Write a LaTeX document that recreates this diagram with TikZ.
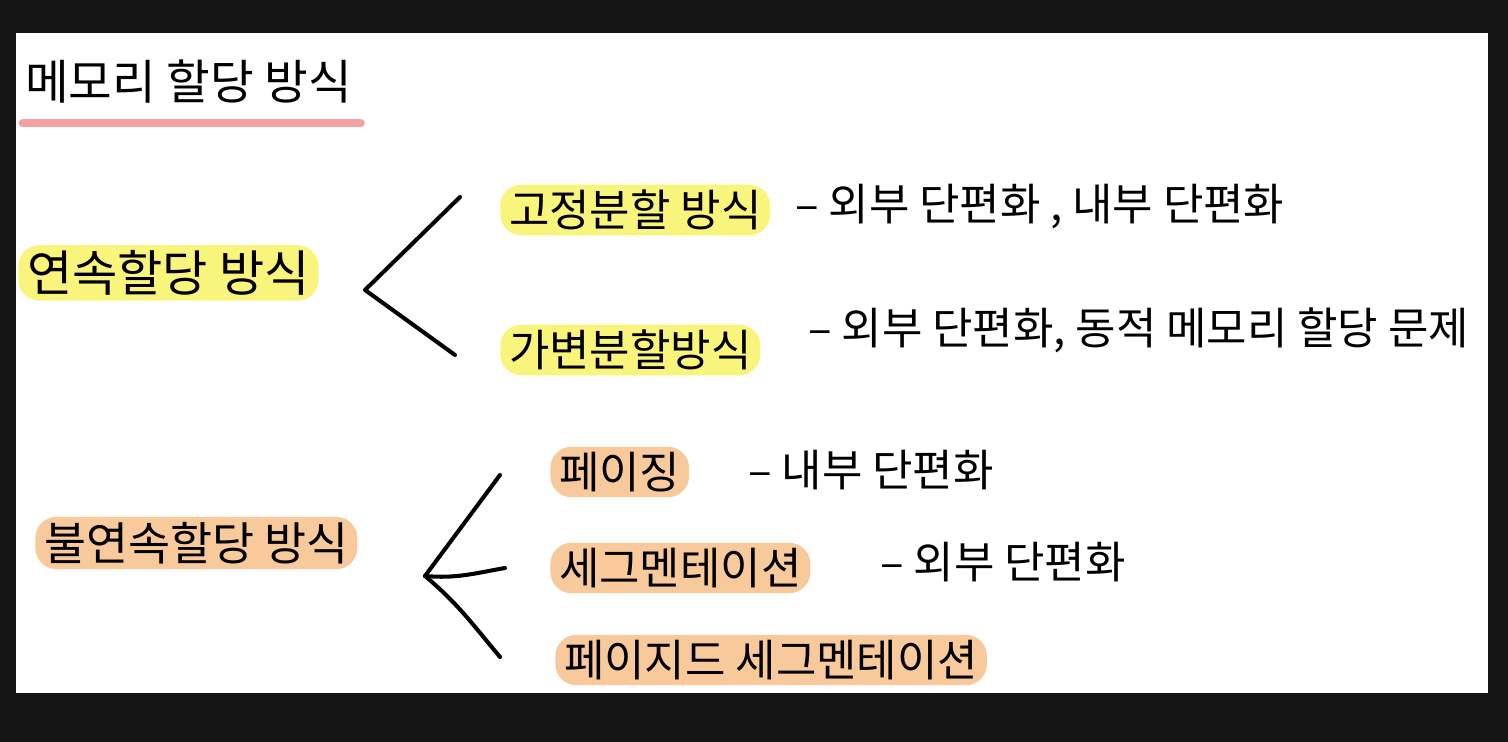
\documentclass[tikz,border=0pt]{standalone}
\usepackage{fontspec}
\setmainfont{Noto Sans CJK KR}
\usetikzlibrary{calc}
\definecolor{bgdark}{HTML}{141414}
\definecolor{markyellow}{HTML}{F9F57C}
\definecolor{markorange}{HTML}{F8C99B}
\definecolor{markpink}{HTML}{F3A0A0}

\begin{document}
\begin{tikzpicture}[x=0.02cm, y=-0.02cm,
    % --- 스타일 정의 ---
    title_text/.style={anchor=west, inner sep=0pt, font=\fontsize{27}{30}\selectfont},
    item_text/.style={anchor=west, inner sep=0pt, font=\fontsize{25}{28}\selectfont},
    desc_text/.style={anchor=west, inner sep=0pt, font=\fontsize{25}{28}\selectfont},
    % 형광펜 (노랑 / 주황)
    mark_yellow/.style={fill=markyellow, rounded corners=12pt, inner xsep=5pt, inner ysep=3pt},
    mark_orange/.style={fill=markorange, rounded corners=12pt, inner xsep=5pt, inner ysep=3pt},
    % 가지 선
    branch/.style={line width=2.3pt, line cap=round, line join=round}
]

    % --- 배경 ---
    \fill[bgdark] (0,0) rectangle (1508,742);
    \fill[white] (16,33) rectangle (1488,693);

    % =========================================
    % 제목
    % =========================================
    \node[title_text] (title) at (25,82) {메모리 할당 방식};
    \draw[markpink, line width=5pt, line cap=round]
        ($(title.south west)+(-2,19)$) -- ($(title.south east)+(8,19)$);

    % =========================================
    % 연속할당 방식
    % =========================================
    \node[item_text, mark_yellow, font=\fontsize{28}{30}\selectfont] (cont) at (18,273) {연속할당 방식};
    \coordinate (fork1) at (365,290); % 갈라지는 점

    \node[item_text, mark_yellow] (fixed) at (500,210) {고정분할 방식};
    \node[desc_text] (fixed_desc) at (795,207) {– 외부 단편화 , 내부 단편화};

    \node[item_text, mark_yellow] (var) at (500,350) {가변분할방식};
    \node[desc_text] (var_desc) at (808,330) {– 외부 단편화, 동적 메모리 할당 문제};

    \draw[branch] ($(fixed.west)+(-40,-13)$) -- (fork1) -- ($(var.west)+(-45,5)$);

    % =========================================
    % 불연속할당 방식
    % =========================================
    \node[item_text, mark_orange, font=\fontsize{26}{28}\selectfont] (noncont) at (35,543) {불연속할당 방식};
    \coordinate (fork2) at (425,576); % 갈라지는 점

    \node[item_text, mark_orange] (paging) at (550,472) {페이징};
    \node[desc_text] (paging_desc) at (748,470) {– 내부 단편화};

    \node[item_text, mark_orange] (seg) at (550,568) {세그멘테이션};
    \node[desc_text] (seg_desc) at (880,562) {– 외부 단편화};

    \node[item_text, mark_orange] (pseg) at (555,660) {페이지드 세그멘테이션};

    \draw[branch] ($(paging.west)+(-50,3)$) -- (fork2);
    \draw[branch] (fork2) to[out=-5, in=190] ($(seg.west)+(-45,0)$);
    \draw[branch] (fork2) to[out=-40, in=130] ($(pseg.west)+(-55,-3)$);

\end{tikzpicture}
\end{document}
